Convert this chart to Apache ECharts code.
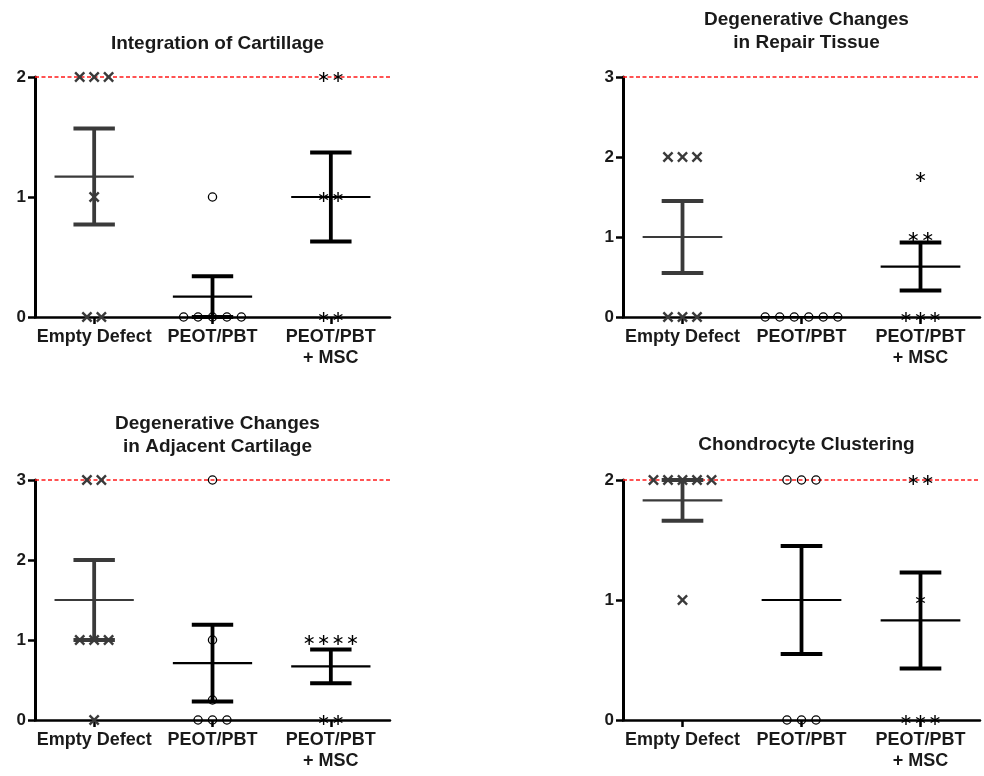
<!DOCTYPE html>
<html><head><meta charset="utf-8">
<script src="https://cdn.jsdelivr.net/npm/echarts@6/dist/echarts.min.js"></script>
<style>html,body{margin:0;padding:0;background:#fff}#c{width:984px;height:776px}</style>
</head><body><div id="c"></div>
<script>
// ---------- data ----------
const categories = ['Empty Defect', 'PEOT/PBT', 'PEOT/PBT\n+ MSC'];
const titles = ['Integration of Cartillage', 'Degenerative Changes\nin Repair Tissue',
                'Degenerative Changes\nin Adjacent Cartilage', 'Chondrocyte Clustering'];
const yMax = [2, 3, 3, 2];

// Integration of Cartillage
const p1Empty = [2, 2, 2, 1, 0, 0];
const p1Peot  = [1, 0, 0, 0, 0, 0];
const p1Msc   = [2, 2, 1, 1, 0, 0];
const p1Mean  = [1.17, 0.17, 1.00];
const p1Sem   = [0.40, 0.17, 0.37];

// Degenerative Changes in Repair Tissue
const p2Empty = [2, 2, 2, 0, 0, 0];
const p2Peot  = [0, 0, 0, 0, 0, 0];
const p2Msc   = [1.75, 1, 1, 0, 0, 0];
const p2Mean  = [1.00, 0.00, 0.63];
const p2Sem   = [0.45, 0.00, 0.30];

// Degenerative Changes in Adjacent Cartilage
const p3Empty = [3, 3, 1, 1, 1, 0];
const p3Peot  = [3, 1, 0.25, 0, 0, 0];
const p3Msc   = [1, 1, 1, 1, 0, 0];
const p3Mean  = [1.50, 0.71, 0.67];
const p3Sem   = [0.50, 0.48, 0.21];

// Chondrocyte Clustering
const p4Empty = [2, 2, 2, 2, 2, 1];
const p4Peot  = [2, 2, 2, 0, 0, 0];
const p4Msc   = [2, 2, 1, 0, 0, 0];
const p4Mean  = [1.83, 1.00, 0.83];
const p4Sem   = [0.17, 0.45, 0.40];

const panels = [
  {groups: [p1Empty, p1Peot, p1Msc], mean: p1Mean, sem: p1Sem},
  {groups: [p2Empty, p2Peot, p2Msc], mean: p2Mean, sem: p2Sem},
  {groups: [p3Empty, p3Peot, p3Msc], mean: p3Mean, sem: p3Sem},
  {groups: [p4Empty, p4Peot, p4Msc], mean: p4Mean, sem: p4Sem}
];

// ---------- layout / style ----------
const gridPos = [
  {left: 35, top: 77, width: 355, height: 240},
  {left: 623, top: 77, width: 357, height: 240},
  {left: 35, top: 480, width: 355, height: 240},
  {left: 623, top: 480, width: 357, height: 240}
];
const titleTop = [27, 3, 407, 428];
const FONT = '"Liberation Sans", Arial, sans-serif';
const groupColor = ['#3a3a3a', '#000000', '#000000'];
const groupShape = ['cross', 'circle', 'star'];
const SPACING = 0.122;

// spread points with identical values side by side
function spread(values, g) {
  const out = [];
  const counts = {};
  values.forEach(v => { counts[v] = (counts[v] || 0) + 1; });
  const seen = {};
  values.forEach(v => {
    const i = seen[v] || 0; seen[v] = i + 1;
    out.push([g, v, i - (counts[v] - 1) / 2]);
  });
  return out;
}

function markerRender(shape, color) {
  return function (params, api) {
    const c = api.coord([api.value(0), api.value(1)]);
    const bw = api.size([1, 0])[0];
    const x = c[0] + api.value(2) * bw * SPACING, y = c[1];
    if (shape === 'cross') {
      const s = 4.6;
      return {type: 'group', children: [
        {type: 'line', shape: {x1: x - s, y1: y - s, x2: x + s, y2: y + s}, style: {stroke: color, lineWidth: 2.4}},
        {type: 'line', shape: {x1: x - s, y1: y + s, x2: x + s, y2: y - s}, style: {stroke: color, lineWidth: 2.4}}
      ]};
    }
    if (shape === 'circle') {
      return {type: 'circle', shape: {cx: x, cy: y, r: 4.1}, style: {stroke: color, fill: null, lineWidth: 1.3}};
    }
    const s = 5, children = [];
    for (let k = 0; k < 3; k++) {
      const a = Math.PI / 2 + k * Math.PI / 3;
      children.push({type: 'line',
        shape: {x1: x - s * Math.cos(a), y1: y - s * Math.sin(a), x2: x + s * Math.cos(a), y2: y + s * Math.sin(a)},
        style: {stroke: color, lineWidth: 1.4}});
    }
    return {type: 'group', children};
  };
}

function errRender(params, api) {
  const g = api.value(0), m = api.value(1), lo = api.value(2), hi = api.value(3);
  const color = groupColor[g];
  const cm = api.coord([g, m]), cl = api.coord([g, lo]), ch = api.coord([g, hi]);
  const bw = api.size([1, 0])[0];
  const x = cm[0];
  const mw = bw * 0.335, cw = bw * 0.175;
  const children = [
    {type: 'line', shape: {x1: x - mw, y1: cm[1], x2: x + mw, y2: cm[1]}, style: {stroke: color, lineWidth: 2.2}}
  ];
  if (hi - lo > 0) {
    children.push(
      {type: 'line', shape: {x1: x, y1: cl[1], x2: x, y2: ch[1]}, style: {stroke: color, lineWidth: 3.8}},
      {type: 'line', shape: {x1: x - cw, y1: cl[1], x2: x + cw, y2: cl[1]}, style: {stroke: color, lineWidth: 4}},
      {type: 'line', shape: {x1: x - cw, y1: ch[1], x2: x + cw, y2: ch[1]}, style: {stroke: color, lineWidth: 4}}
    );
  }
  return {type: 'group', children};
}

function refLineRender(params, api) {
  const c = api.coord([0, api.value(1)]);
  const cs = params.coordSys;
  return {type: 'line',
    shape: {x1: cs.x, y1: c[1], x2: cs.x + cs.width, y2: c[1]},
    style: {stroke: '#ff1a1a', lineWidth: 1.6, lineDash: [4, 2.5]}};
}

const option = {
  animation: false,
  backgroundColor: '#ffffff',
  title: titles.map((t, i) => ({
    text: t, left: gridPos[i].left + gridPos[i].width / 2, top: titleTop[i], textAlign: 'center',
    textStyle: {fontFamily: FONT, fontWeight: 'bold', fontSize: 19, lineHeight: 23, color: '#1a1a1a'}
  })),
  grid: gridPos.map(p => Object.assign({containLabel: false}, p)),
  xAxis: gridPos.map((p, i) => ({
    type: 'category', gridIndex: i, data: categories, boundaryGap: true,
    axisLine: {lineStyle: {color: '#000', width: 2.5}},
    axisTick: {show: true, alignWithLabel: true, length: 7, lineStyle: {color: '#000', width: 2.5}},
    axisLabel: {fontFamily: FONT, fontWeight: 'bold', fontSize: 18, lineHeight: 21, color: '#1a1a1a', margin: 10, interval: 0},
    splitLine: {show: false}
  })),
  yAxis: gridPos.map((p, i) => ({
    type: 'value', gridIndex: i, min: 0, max: yMax[i], interval: 1,
    axisLine: {show: true, lineStyle: {color: '#000', width: 3}},
    axisTick: {show: true, length: 7, lineStyle: {color: '#000', width: 2.5}},
    axisLabel: {fontFamily: FONT, fontWeight: 'bold', fontSize: 17, color: '#1a1a1a', margin: 9},
    splitLine: {show: false}
  })),
  series: []
};

panels.forEach((pn, i) => {
  option.series.push({
    type: 'custom', xAxisIndex: i, yAxisIndex: i, z: 1, clip: false, silent: true,
    renderItem: refLineRender,
    data: [[0, yMax[i]]]
  });
  option.series.push({
    type: 'custom', xAxisIndex: i, yAxisIndex: i, z: 3, clip: false,
    renderItem: errRender,
    data: pn.mean.map((m, g) => [g, m, m - pn.sem[g], m + pn.sem[g]])
  });
  pn.groups.forEach((vals, g) => {
    option.series.push({
      type: 'custom', xAxisIndex: i, yAxisIndex: i, z: 4, clip: false,
      renderItem: markerRender(groupShape[g], groupColor[g]),
      data: spread(vals, g)
    });
  });
});

const chart = echarts.init(document.getElementById('c'), null, {renderer: 'canvas'});
chart.setOption(option);
</script>
</body></html>
